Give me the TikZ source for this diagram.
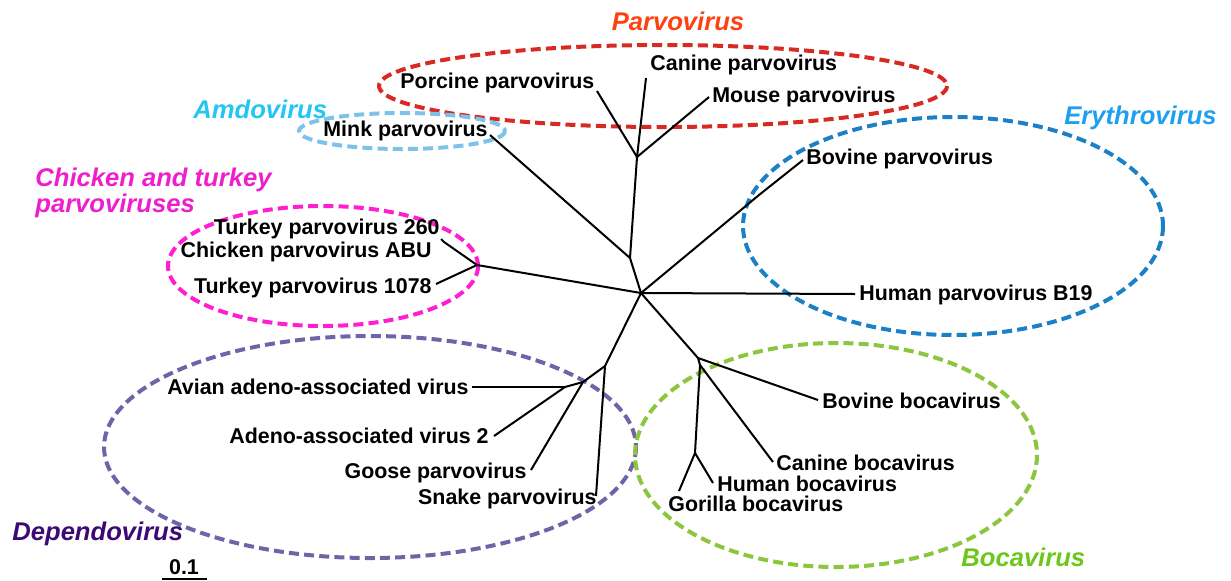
\documentclass[tikz,border=0pt]{standalone}
\usepackage{fontspec}
\setmainfont{Liberation Sans}
\definecolor{cParT}{HTML}{FF4010}
\definecolor{cParE}{HTML}{D82A22}
\definecolor{cAmdT}{HTML}{22C6F2}
\definecolor{cAmdE}{HTML}{7CC2EA}
\definecolor{cEryT}{HTML}{1EA0F0}
\definecolor{cEryE}{HTML}{1C80C6}
\definecolor{cChiT}{HTML}{EE1ECC}
\definecolor{cChiE}{HTML}{FF1ED0}
\definecolor{cDepT}{HTML}{3C0A74}
\definecolor{cDepE}{HTML}{6E64A8}
\definecolor{cBocT}{HTML}{6CC818}
\definecolor{cBocE}{HTML}{8CC63E}
\tikzset{
  lbl/.style={font=\fontsize{10.7}{12}\selectfont\bfseries, inner sep=0pt},
  grp/.style={font=\fontsize{12.8}{15}\selectfont\bfseries\itshape, inner sep=0pt},
  clade/.style={line width=2pt, dash pattern=on 5pt off 2.6pt},
  br/.style={line width=1pt, line join=miter},
}
\begin{document}
\begin{tikzpicture}[x=0.5pt,y=-0.5pt]
\useasboundingbox (0,0) rectangle (1231,580);
% clade ellipses
\draw[clade, cParE] (663,86) ellipse [x radius=284, y radius=41];
\draw[clade, cAmdE] (402,131) ellipse [x radius=103, y radius=18];
\draw[clade, cEryE] (953,226) ellipse [x radius=210, y radius=109];
\draw[clade, cChiE] (323,266) ellipse [x radius=155, y radius=60];
\draw[clade, cDepE] (370,447) ellipse [x radius=266, y radius=111];
\draw[clade, cBocE] (836,455) ellipse [x radius=201, y radius=112];
% group labels
\node[grp, text=cParT] (gPar) at (678,21) {Parvovirus};
\node[grp, text=cAmdT, anchor=west] (gAmd) at (193,109) {Amdovirus};
\node[grp, text=cEryT, anchor=west] (gEry) at (1064,118) {Erythrovirus};
\node[grp, text=cChiT, anchor=west] (gChi1) at (35,180) {Chicken and turkey};
\node[grp, text=cChiT, anchor=west] (gChi2) at (35,206) {parvoviruses};
\node[grp, text=cDepT, anchor=west] (gDep) at (12,534) {Dependovirus};
\node[grp, text=cBocT, anchor=west] (gBoc) at (961,557) {Bocavirus};
% taxon labels
\node[lbl, anchor=west] (lPor) at (400,83) {Porcine parvovirus};
\node[lbl, anchor=west] (lCan) at (650,65) {Canine parvovirus};
\node[lbl, anchor=west] (lMou) at (712,97) {Mouse parvovirus};
\node[lbl, anchor=west] (lMin) at (323,131) {Mink parvovirus};
\node[lbl, anchor=west] (lBovP) at (806,159) {Bovine parvovirus};
\node[lbl, anchor=east] (lT260) at (440,229) {Turkey parvovirus 260};
\node[lbl, anchor=east] (lABU) at (432,252) {Chicken parvovirus ABU};
\node[lbl, anchor=east] (lT1078) at (432,288) {Turkey parvovirus 1078};
\node[lbl, anchor=west] (lB19) at (859,295) {Human parvovirus B19};
\node[lbl, anchor=east] (lAvi) at (469,387) {Avian adeno-associated virus};
\node[lbl, anchor=east] (lAAV) at (489,436) {Adeno-associated virus 2};
\node[lbl, anchor=east] (lGoo) at (527,473) {Goose parvovirus};
\node[lbl, anchor=east] (lSna) at (597,499) {Snake parvovirus};
\node[lbl, anchor=west] (lBovB) at (822,401) {Bovine bocavirus};
\node[lbl, anchor=west] (lCanB) at (776,463) {Canine bocavirus};
\node[lbl, anchor=west] (lHumB) at (717,484) {Human bocavirus};
\node[lbl, anchor=west] (lGorB) at (668,504) {Gorilla bocavirus};
% tree coordinates
\coordinate (C) at (641,293);
\coordinate (P1) at (630,258);
\coordinate (P2) at (637,157);
\coordinate (tPor) at (597,91);
\coordinate (tCan) at (646,78);
\coordinate (tMou) at (709,97);
\coordinate (tMin) at (490,135);
\coordinate (tBovPk) at (759,195);
\coordinate (tBovP) at (803,160);
\coordinate (tB19) at (855,294);
\coordinate (CH) at (477,265);
\coordinate (tT260a) at (444,242);
\coordinate (tT260) at (441,239);
\coordinate (tT1078) at (436,284);
\coordinate (D1) at (605,366);
\coordinate (D2) at (583,382);
\coordinate (D3) at (565,387);
\coordinate (tAvi) at (472,387);
\coordinate (tAAV) at (494,436);
\coordinate (tGoo) at (531,470);
\coordinate (tSna) at (596,496);
\coordinate (B1) at (698,358);
\coordinate (B2) at (700,365);
\coordinate (B3) at (695,453);
\coordinate (tBovB) at (818,400);
\coordinate (tCanB) at (773,462);
\coordinate (tHumB) at (713,483);
\coordinate (tGorB) at (679,491);
% branches
\draw[br] (C) -- (P1) -- (P2);
\draw[br] (P2) -- (tPor);
\draw[br] (P2) -- (tCan);
\draw[br] (P2) -- (tMou);
\draw[br] (P1) -- (tMin);
\draw[br] (C) -- (tBovPk) -- (tBovP);
\draw[br] (C) -- (tB19);
\draw[br] (C) -- (CH);
\draw[br] (CH) -- (tT260a) -- (tT260);
\draw[br] (CH) -- (tT1078);
\draw[br] (C) -- (D1);
\draw[br] (D1) -- (tSna);
\draw[br] (D1) -- (D2);
\draw[br] (D2) -- (D3);
\draw[br] (D3) -- (tAvi);
\draw[br] (D3) -- (tAAV);
\draw[br] (D2) -- (tGoo);
\draw[br] (C) -- (B1);
\draw[br] (B1) -- (tBovB);
\draw[br] (B1) -- (B2);
\draw[br] (B2) -- (tCanB);
\draw[br] (B2) -- (B3);
\draw[br] (B3) -- (tHumB);
\draw[br] (B3) -- (tGorB);
% scale bar
\coordinate (s1) at (162,579);
\coordinate (s2) at (207,579);
\draw[br] (s1) -- (s2);
\node[lbl, anchor=south] (sLbl) at (184,575) {0.1};
\end{tikzpicture}
\end{document}
